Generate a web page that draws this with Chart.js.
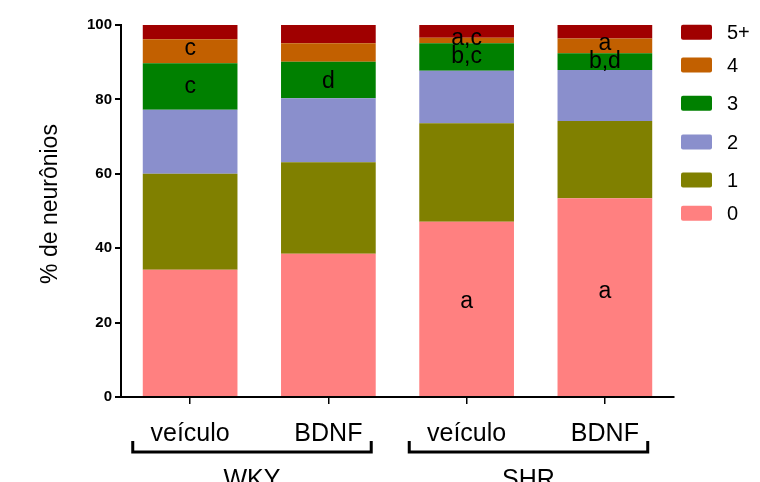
<!DOCTYPE html>
<html>
<head>
<meta charset="utf-8">
<script src="https://cdn.jsdelivr.net/npm/chart.js@4.4.1/dist/chart.umd.min.js"></script>
<style>
  html, body { margin: 0; padding: 0; background: #fff; }
  #wrap { width: 760px; height: 482px; }
</style>
</head>
<body>
<div id="wrap"><canvas id="chart" width="760" height="482"></canvas></div>
<script>
// categories (treatment) and groups (strain)
var categories = ["veículo", "BDNF", "veículo", "BDNF"];
var groups = ["WKY", "SHR"];

// % of neurons per number of ... (0, 1, 2, 3, 4, 5+), one value per bar
var labels = ["0", "1", "2", "3", "4", "5+"];
var v0 = [34.2, 38.5, 47.1, 53.4];
var v1 = [25.8, 24.6, 26.5, 20.8];
var v2 = [17.2, 17.2, 14.1, 13.7];
var v3 = [12.5, 9.8, 7.4, 4.5];
var v4 = [6.5, 5.0, 1.5, 4.0];
var v5 = [3.8, 4.9, 3.4, 3.6];
var colors = ["#ff8080", "#808000", "#8a8fcc", "#008000", "#c26000", "#a00000"];

// significance letters: bar index, y value, text
var markBar = [0, 0, 1, 2, 2, 2, 3, 3, 3];
var markVal = [93.6, 83.3, 84.9, 96.3, 91.4, 25.6, 95.0, 90.1, 28.2];
var markTxt = ["c", "c", "d", "a,c", "b,c", "a", "a", "b,d", "a"];

var yTicks = [0, 20, 40, 60, 80, 100];

var font = "'Liberation Sans', Arial, sans-serif";
var series = [v0, v1, v2, v3, v4, v5];

var datasets = [];
for (var i = 0; i < series.length; i++) {
  datasets.push({
    label: labels[i],
    data: series[i],
    backgroundColor: colors[i],
    borderWidth: 0,
    barPercentage: 0.685,
    categoryPercentage: 1
  });
}

var extras = {
  id: "extras",
  afterDatasetsDraw: (chart) => {
    var ctx = chart.ctx;
    var xs = chart.scales.x, ys = chart.scales.y;
    ctx.save();
    // letters
    ctx.fillStyle = "#000";
    ctx.font = "23px " + font;
    ctx.textAlign = "center";
    ctx.textBaseline = "middle";
    for (var i = 0; i < markTxt.length; i++) {
      ctx.fillText(markTxt[i], xs.getPixelForValue(markBar[i]), ys.getPixelForValue(markVal[i]));
    }
    // group brackets
    ctx.strokeStyle = "#000";
    ctx.lineWidth = 3;
    ctx.font = "25px " + font;
    ctx.textBaseline = "alphabetic";
    for (var g = 0; g < groups.length; g++) {
      var a = xs.getPixelForValue(g * 2 - 0.415);
      var b = xs.getPixelForValue(g * 2 + 1 + 0.31);
      ctx.beginPath();
      ctx.moveTo(a, 441);
      ctx.lineTo(a, 452);
      ctx.lineTo(b, 452);
      ctx.lineTo(b, 441);
      ctx.stroke();
      ctx.fillText(groups[g], (a + b) / 2, 487);
    }
    // y title, drawn a bit above the plot centre like the original
    ctx.save();
    ctx.translate(51, 204);
    ctx.rotate(-Math.PI / 2);
    ctx.font = "23px " + font;
    ctx.textAlign = "center";
    ctx.textBaseline = "middle";
    ctx.fillText("% de neurônios", 0, 0);
    ctx.restore();
    // legend, top item = last dataset
    var rows = [32.3, 65, 103.3, 142, 180, 213.3];
    ctx.font = "20px " + font;
    ctx.textAlign = "left";
    ctx.textBaseline = "middle";
    var ds = chart.data.datasets;
    for (var k = 0; k < ds.length; k++) {
      var d = ds[ds.length - 1 - k];
      ctx.fillStyle = d.backgroundColor;
      ctx.beginPath();
      ctx.roundRect(681, rows[k] - 7.5, 31, 15, 2);
      ctx.fill();
      ctx.fillStyle = "#000";
      ctx.fillText(d.label, 727, rows[k] + 1);
    }
    ctx.restore();
  }
};

new Chart(document.getElementById("chart"), {
  type: "bar",
  data: { labels: categories, datasets: datasets },
  options: {
    responsive: false,
    animation: false,
    layout: { padding: { left: 0, right: 86, top: 25, bottom: 0 } },
    plugins: { legend: { display: false }, tooltip: { enabled: false } },
    scales: {
      x: {
        stacked: true,
        grid: { display: true, drawOnChartArea: false, offset: false, tickLength: 7, color: "#000", lineWidth: 1.5 },
        border: { color: "#000", width: 2 },
        ticks: { color: "#000", font: { family: font, size: 25 }, padding: 15, maxRotation: 0 },
        afterFit: (s) => { s.height = 85; }
      },
      y: {
        stacked: true,
        min: 0,
        max: 100,
        afterBuildTicks: (s) => { s.ticks = yTicks.map((v) => ({ value: v })); },
        grid: { display: true, drawOnChartArea: false, tickLength: 6, color: "#000", lineWidth: 2 },
        border: { color: "#000", width: 2 },
        ticks: { color: "#000", font: { family: font, size: 15, weight: "bold" }, padding: 3 },
        afterFit: (s) => { s.width = 121; }
      }
    }
  },
  plugins: [extras]
});
</script>
</body>
</html>
